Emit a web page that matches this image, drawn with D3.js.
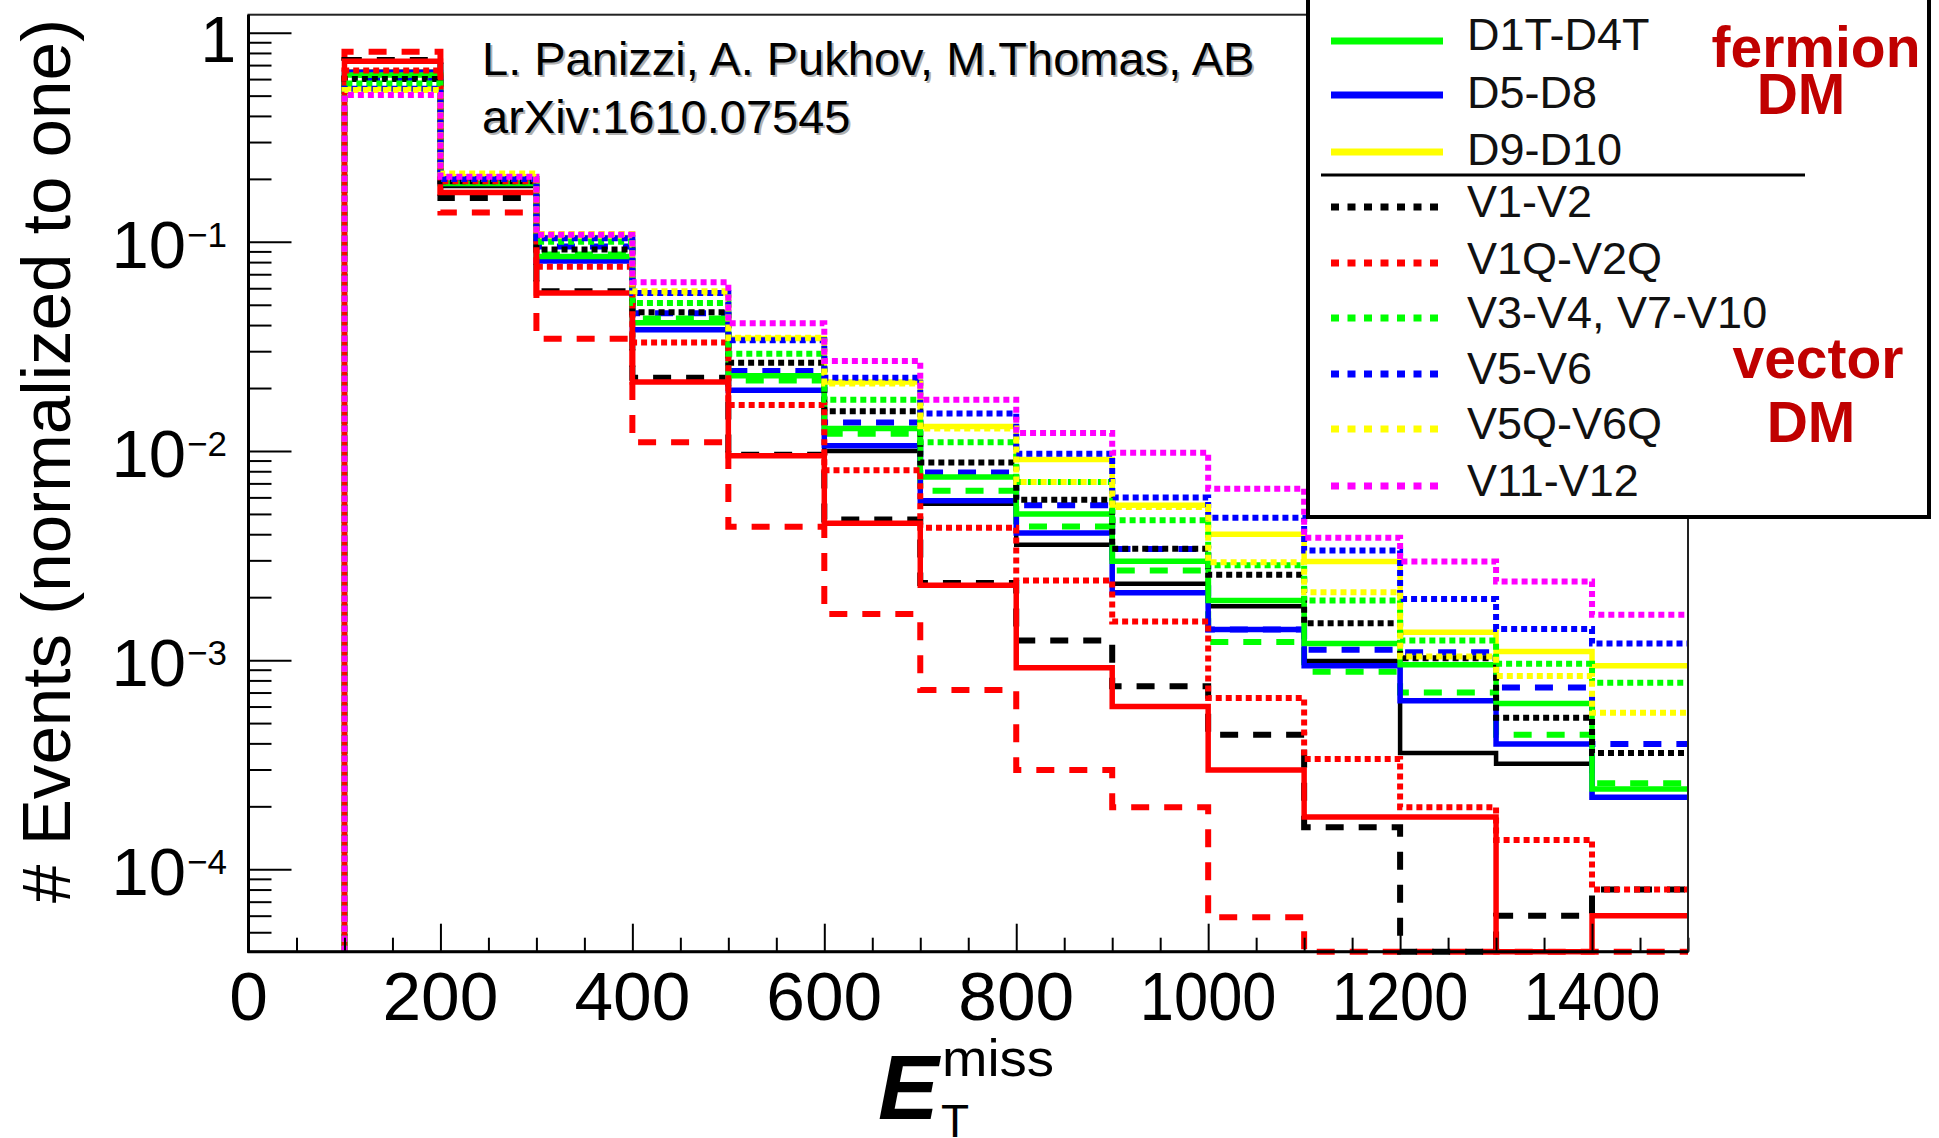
<!DOCTYPE html>
<html><head><meta charset="utf-8">
<script src="https://cdn.jsdelivr.net/npm/d3@7"></script>
<style>
body{margin:0;background:#fff}
svg{display:block}
text{font-family:"Liberation Sans",Arial,Helvetica,sans-serif}
</style>
</head><body>
<svg id="chart" width="1939" height="1138"></svg>
<script>
// ---------------- data ----------------
const binLow = [100,200,300,400,500,600,700,800,900,1000,1100,1200,1300,1400];
const binHigh = 1500;
const xTickLabels = [0,200,400,600,800,1000,1200,1400];
const yTickExps = [0,-1,-2,-3,-4];

const greenSolid   = [0.628,0.19,0.085,0.041,0.0229,0.0128,0.0075,0.0050,0.00297,0.00193,0.0012,0.00095,0.00062,0.000242];
const blueSolid    = [0.645,0.19,0.081,0.038,0.0195,0.0106,0.00578,0.00405,0.0021,0.0014,0.00094,0.00064,0.000397,0.000221];
const yellowSolid  = [0.539,0.205,0.105,0.057,0.0345,0.0214,0.0131,0.0091,0.0055,0.0040,0.00296,0.00136,0.0011,0.00094];
const blackDotted  = [0.60,0.195,0.092,0.046,0.0264,0.0155,0.0088,0.00585,0.00341,0.00256,0.0015,0.00102,0.00053,0.00036];
const redDotted    = [0.66,0.195,0.076,0.033,0.0166,0.0081,0.0043,0.0024,0.00153,0.00066,0.000337,0.000198,0.000138,0.00008];
const greenDotted  = [0.571,0.20,0.10,0.051,0.0292,0.0176,0.0110,0.0071,0.00466,0.00284,0.00193,0.00124,0.00096,0.00078];
const blueDotted   = [0.54,0.20,0.104,0.057,0.0338,0.0224,0.0151,0.0097,0.0060,0.0048,0.00334,0.00196,0.00141,0.0012];
const yellowDotted = [0.532,0.212,0.109,0.058,0.0348,0.021,0.0128,0.0071,0.0054,0.00294,0.00211,0.00104,0.00084,0.00056];
const magentaDotted= [0.503,0.205,0.108,0.064,0.0408,0.0269,0.0176,0.0122,0.0098,0.0066,0.00385,0.00296,0.00238,0.00165];
const redSolid     = [0.73,0.172,0.057,0.0214,0.0095,0.00451,0.00228,0.00092,0.0006,0.000298,0.000178,0.000178,0,0.00006];
const blackSolid   = [0.65,0.185,0.083,0.038,0.0195,0.0100,0.0056,0.00356,0.00232,0.00181,0.00099,0.00036,0.00032,0.00022];
const redDashed    = [0.81,0.138,0.0344,0.0110,0.00434,0.00166,0.00072,0.000298,0.000198,0.000059,0,0,0,0];
const blackDashed  = [0.74,0.162,0.058,0.0224,0.0096,0.0047,0.00234,0.00124,0.00075,0.00044,0.000159,0,0.00006,0.00008];
const blueDashed   = [0.605,0.195,0.095,0.0455,0.0241,0.0137,0.0079,0.0055,0.0034,0.0014,0.00112,0.00109,0.00074,0.000397];
const greenDashed  = [0.629,0.19,0.087,0.043,0.0217,0.0121,0.00645,0.00436,0.00268,0.00122,0.00088,0.0007,0.00044,0.000258];

const legendLabels = ["D1T-D4T","D5-D8","D9-D10","V1-V2","V1Q-V2Q","V3-V4, V7-V10","V5-V6","V5Q-V6Q","V11-V12"];
const authorText = "L. Panizzi, A. Pukhov, M.Thomas, AB";
const arxivText = "arXiv:1610.07545";

// ---------------- styles (draw order) ----------------
const DASH = "18,15", DOT = "6,4", SOLID = null;
const series = [
  {v: redDashed,    c:"#ff0000", d:DASH,  w:6},
  {v: blackDashed,  c:"#000000", d:DASH,  w:6},
  {v: blueDashed,   c:"#0000ff", d:DASH,  w:6},
  {v: greenDashed,  c:"#00ff00", d:DASH,  w:6},
  {v: blackSolid,   c:"#000000", d:SOLID, w:4.5},
  {v: blueSolid,    c:"#0000ff", d:SOLID, w:5.5},
  {v: greenSolid,   c:"#00ff00", d:SOLID, w:5.5},
  {v: yellowSolid,  c:"#ffff00", d:SOLID, w:5.5},
  {v: redSolid,     c:"#ff0000", d:SOLID, w:5.5},
  {v: blackDotted,  c:"#000000", d:DOT,   w:6},
  {v: redDotted,    c:"#ff0000", d:DOT,   w:6},
  {v: greenDotted,  c:"#00ff00", d:DOT,   w:6},
  {v: blueDotted,   c:"#0000ff", d:DOT,   w:6},
  {v: yellowDotted, c:"#ffff00", d:DOT,   w:6},
  {v: magentaDotted,c:"#ff00ff", d:DOT,   w:6}
];
const legendStyles = [
  {c:"#00ff00", d:null},{c:"#0000ff", d:null},{c:"#ffff00", d:null},
  {c:"#000000", d:"8,8.5"},{c:"#ff0000", d:"8,8.5"},{c:"#00ff00", d:"8,8.5"},
  {c:"#0000ff", d:"8,8.5"},{c:"#ffff00", d:"8,8.5"},{c:"#ff00ff", d:"8,8.5"}
];

// ---------------- scales ----------------
const L = 248.5, R = 1688, T = 14.7, B = 951.7;
const yMin = 4.036e-5, yMax = 1.219;
const x = d3.scaleLinear().domain([0, 1500]).range([L, R]);
const y = d3.scaleLog().domain([yMin, yMax]).range([B, T]);

const svg = d3.select("#chart");

svg.append("defs").append("clipPath").attr("id","pc")
  .append("rect").attr("x", L).attr("y", T).attr("width", R - L).attr("height", B - T + 6);

// ---------------- histograms ----------------
const yc = v => y(Math.max(v, yMin));
function stepPoints(vals){
  const pts = [[binLow[0], yMin]];
  vals.forEach((v,i) => {
    const hi = i < vals.length - 1 ? binLow[i+1] : binHigh;
    pts.push([binLow[i], v]);
    pts.push([hi, v]);
  });
  return pts;
}
const line = d3.line().x(p => x(p[0])).y(p => yc(p[1]));
const gH = svg.append("g").attr("clip-path","url(#pc)");
series.forEach(s => {
  gH.append("path")
    .attr("d", line(stepPoints(s.v)))
    .attr("fill","none")
    .attr("stroke", s.c)
    .attr("stroke-width", s.w)
    .attr("stroke-dasharray", s.d)
    .attr("stroke-linejoin","miter")
    .attr("stroke-linecap","butt");
});

// ---------------- axes ----------------
const xMajor = d3.range(0, 1501, 200);
const xMinor = d3.range(0, 1501, 50).filter(v => v % 200 !== 0);
svg.append("g").attr("transform",`translate(0,${B})`)
  .call(d3.axisBottom(x).tickValues(xMajor).tickSize(-28).tickSizeOuter(0).tickFormat(""))
  .call(g => g.select(".domain").remove());
svg.append("g").attr("transform",`translate(0,${B})`)
  .call(d3.axisBottom(x).tickValues(xMinor).tickSize(-14).tickSizeOuter(0).tickFormat(""))
  .call(g => g.select(".domain").remove());

const yMajor = yTickExps.map(e => Math.pow(10, e));
const yMinor = [];
for (let e = -5; e <= 0; e++) for (let k = 2; k <= 9; k++) {
  const v = k * Math.pow(10, e);
  if (v > yMin && v < yMax) yMinor.push(v);
}
svg.append("g").attr("transform",`translate(${L},0)`)
  .call(d3.axisLeft(y).tickValues(yMajor).tickSize(-43).tickSizeOuter(0).tickFormat(""))
  .call(g => g.select(".domain").remove());
svg.append("g").attr("transform",`translate(${L},0)`)
  .call(d3.axisLeft(y).tickValues(yMinor).tickSize(-23).tickSizeOuter(0).tickFormat(""))
  .call(g => g.select(".domain").remove());
svg.selectAll(".tick line").attr("stroke","#000").attr("stroke-width",2);

// frame
svg.append("rect").attr("x", L).attr("y", T).attr("width", R - L).attr("height", B - T)
  .attr("fill","none").attr("stroke","#222").attr("stroke-width",2);
svg.append("line").attr("x1",L).attr("x2",L).attr("y1",T).attr("y2",B+1).attr("stroke","#000").attr("stroke-width",3);
svg.append("line").attr("x1",L-1).attr("x2",R).attr("y1",B).attr("y2",B).attr("stroke","#000").attr("stroke-width",3);

// x tick labels
const xfs = 69;
xTickLabels.forEach(v => {
  const s = String(v);
  const ones = s.split("").filter(c => c === "1").length;
  const w = xfs * (0.56 * (s.length - ones) + 0.3 * ones);
  svg.append("text").attr("x", x(v)).attr("y", 1020)
    .attr("text-anchor","middle").attr("font-size", xfs)
    .attr("textLength", w).attr("lengthAdjust","spacingAndGlyphs")
    .text(s);
});

// y tick labels
yTickExps.forEach(e => {
  const ty = y(Math.pow(10, e));
  if (e === 0) {
    svg.append("text").attr("x", 236).attr("y", ty + 29).attr("text-anchor","end")
      .attr("font-size", 64).text("1");
  } else {
    svg.append("text").attr("x", 186).attr("y", ty + 26).attr("text-anchor","end")
      .attr("font-size", 67).text("10");
    svg.append("text").attr("x", 187).attr("y", ty + 5).attr("text-anchor","start")
      .attr("font-size", 35).text("\u2212" + (-e));
  }
});

// axis titles
svg.append("text")
  .attr("transform","translate(70,461) rotate(-90)")
  .attr("text-anchor","middle").attr("font-size",69)
  .attr("textLength",884).attr("lengthAdjust","spacingAndGlyphs")
  .text("# Events (normalized to one)");
svg.append("text").attr("x", 878).attr("y", 1119)
  .attr("font-size", 91).attr("font-weight","bold").attr("font-style","italic").text("E");
svg.append("text").attr("x", 942).attr("y", 1076).attr("font-size", 52)
  .attr("textLength",112).attr("lengthAdjust","spacingAndGlyphs").text("miss");
svg.append("text").attr("x", 941).attr("y", 1137).attr("font-size", 46).text("T");

// annotation
[[authorText, 75],[arxivText, 133]].forEach(([t, by]) => {
  svg.append("text").attr("x", 484).attr("y", by + 2).attr("font-size", 47).attr("fill","#b0b0b0").text(t);
  svg.append("text").attr("x", 482).attr("y", by).attr("font-size", 47).attr("fill","#000").text(t);
});

// ---------------- legend ----------------
const lg = svg.append("g");
lg.append("rect").attr("x",1308).attr("y",-10).attr("width",621).attr("height",527)
  .attr("fill","#fff").attr("stroke","#000").attr("stroke-width",4);
const rowY = [41, 95, 152, 207, 263, 318, 374, 429, 486];
const textBase = [50, 108, 165, 217, 274, 328, 384, 439, 496];
legendLabels.forEach((lab, i) => {
  const st = legendStyles[i];
  lg.append("line").attr("x1",1331).attr("x2",1443).attr("y1",rowY[i]).attr("y2",rowY[i])
    .attr("stroke", st.c).attr("stroke-width", 7).attr("stroke-dasharray", st.d);
  lg.append("text").attr("x",1467).attr("y",textBase[i]).attr("font-size",45)
    .attr("fill","#111").text(lab);
});
lg.append("line").attr("x1",1321).attr("x2",1805).attr("y1",175).attr("y2",175)
  .attr("stroke","#000").attr("stroke-width",3);
const dmRed = "#c00000";
[["fermion",1816,67],["DM",1801,114],["vector",1818,378],["DM",1811,442]].forEach(([t,cx,by]) => {
  lg.append("text").attr("x",cx).attr("y",by).attr("text-anchor","middle")
    .attr("font-size",57).attr("font-weight","bold").attr("fill",dmRed).text(t);
});
</script>
</body></html>
